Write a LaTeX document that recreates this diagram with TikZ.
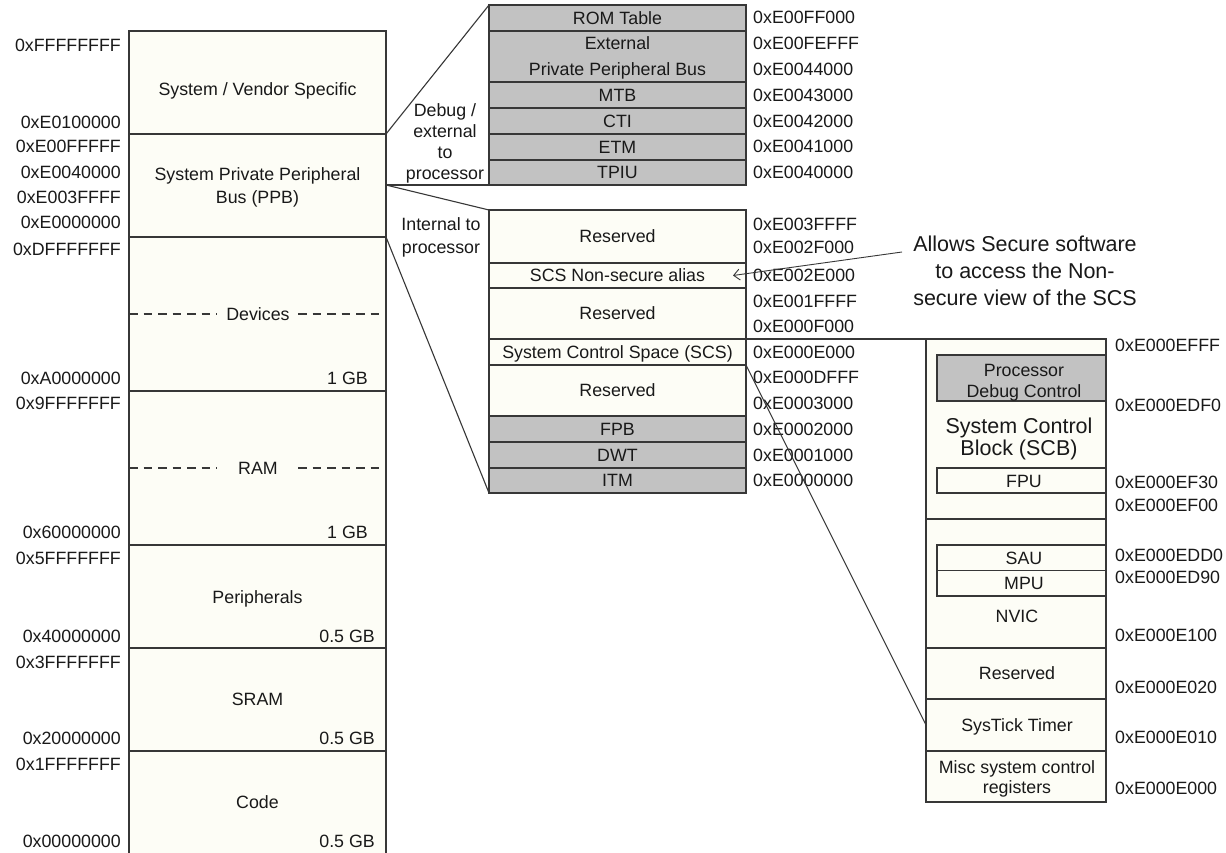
\documentclass[tikz,border=0pt]{standalone}
\usepackage{fontspec}
\setmainfont{Liberation Sans}
\usetikzlibrary{arrows.meta}
\definecolor{cream}{RGB}{253,253,246}
\definecolor{greyc}{RGB}{194,194,194}
\definecolor{linec}{RGB}{55,55,55}
\definecolor{txtc}{RGB}{25,25,25}
\newcommand\myfs{\fontsize{17.8}{21}\selectfont}
\newcommand\myfsbig{\fontsize{21.5}{26}\selectfont}
\tikzset{
  box/.style={draw=linec, line width=1.1pt, fill=cream, anchor=north west, inner sep=0pt, outer sep=0pt},
  gbox/.style={box, fill=greyc},
  txt/.style={font=\myfs, text=txtc, inner sep=0pt, anchor=base},
  bigtxt/.style={txt, font=\myfsbig},
  addrL/.style={txt, anchor=base east},
  addrR/.style={txt, anchor=base west},
  conn/.style={draw=linec, line width=1.1pt},
  dashln/.style={draw=linec, line width=1.1pt, dash pattern=on 8.5pt off 6pt},
}
\begin{document}
\begin{tikzpicture}[x=1pt,y=-1pt]
\useasboundingbox (0,0) rectangle (1226,852);
\fill[white] (0,0) rectangle (1226,852);

% ---------- left column ----------
\node[box, minimum width=257pt, minimum height=103pt] (sv)   at (129,31)  {};
\node[box, minimum width=257pt, minimum height=103pt] (ppb)  at (129,134) {};
\node[box, minimum width=257pt, minimum height=154pt] (dev)  at (129,237) {};
\node[box, minimum width=257pt, minimum height=154pt] (ram)  at (129,391) {};
\node[box, minimum width=257pt, minimum height=103pt] (per)  at (129,545) {};
\node[box, minimum width=257pt, minimum height=103pt] (sram) at (129,648) {};
\node[box, minimum width=257pt, minimum height=110pt] (code) at (129,751) {};

\node[txt] (t-sv)   at (257.5,95.4)  {System / Vendor Specific};
\node[txt] (t-ppb1) at (257.5,180.4) {System Private Peripheral};
\node[txt] (t-ppb2) at (257.5,203.4) {Bus (PPB)};
\node[txt] (t-dev)  at (258,320.4)   {Devices};
\node[txt] (t-ram)  at (258,474.4)   {RAM};
\node[txt] (t-per)  at (257.5,603.4) {Peripherals};
\node[txt] (t-sram) at (257.5,705.4) {SRAM};
\node[txt] (t-code) at (257.5,808.4) {Code};

\draw[dashln] (dev.west |- 0,314) -- (217,314);
\draw[dashln] (298,314) -- (dev.east |- 0,314);
\draw[dashln] (ram.west |- 0,468) -- (217,468);
\draw[dashln] (298,468) -- (ram.east |- 0,468);

\node[addrL] (s-dev)  at (368,384.4) {1 GB};
\node[addrL] (s-ram)  at (368,538.4) {1 GB};
\node[addrL] (s-per)  at (375,642.4) {0.5 GB};
\node[addrL] (s-sram) at (375,744.4) {0.5 GB};
\node[addrL] (s-code) at (375,847.4) {0.5 GB};

\node[addrL] (a1)  at (121,51.4)  {0xFFFFFFFF};
\node[addrL] (a2)  at (121,128.4) {0xE0100000};
\node[addrL] (a3)  at (121,152.4) {0xE00FFFFF};
\node[addrL] (a4)  at (121,178.4) {0xE0040000};
\node[addrL] (a5)  at (121,203.4) {0xE003FFFF};
\node[addrL] (a6)  at (121,228.4) {0xE0000000};
\node[addrL] (a7)  at (121,255.4) {0xDFFFFFFF};
\node[addrL] (a8)  at (121,384.4) {0xA0000000};
\node[addrL] (a9)  at (121,409.4) {0x9FFFFFFF};
\node[addrL] (a10) at (121,538.4) {0x60000000};
\node[addrL] (a11) at (121,564.4) {0x5FFFFFFF};
\node[addrL] (a12) at (121,642.4) {0x40000000};
\node[addrL] (a13) at (121,668.4) {0x3FFFFFFF};
\node[addrL] (a14) at (121,744.4) {0x20000000};
\node[addrL] (a15) at (121,770.4) {0x1FFFFFFF};
\node[addrL] (a16) at (121,847.4) {0x00000000};

% ---------- middle: debug / external ----------
\node[gbox, minimum width=257pt, minimum height=26pt] (rom)  at (489,5)   {};
\node[gbox, minimum width=257pt, minimum height=51pt] (ext)  at (489,31)  {};
\node[gbox, minimum width=257pt, minimum height=26pt] (mtb)  at (489,82)  {};
\node[gbox, minimum width=257pt, minimum height=26pt] (cti)  at (489,108) {};
\node[gbox, minimum width=257pt, minimum height=26pt] (etm)  at (489,134) {};
\node[gbox, minimum width=257pt, minimum height=25pt] (tpiu) at (489,160) {};

\node[txt] (t-rom)  at (617.5,24.4)  {ROM Table};
\node[txt] (t-ext1) at (617.5,49.4)  {External};
\node[txt] (t-ext2) at (617.5,75.4)  {Private Peripheral Bus};
\node[txt] (t-mtb)  at (617.5,101.4) {MTB};
\node[txt] (t-cti)  at (617.5,127.4) {CTI};
\node[txt] (t-etm)  at (617.5,153.4) {ETM};
\node[txt] (t-tpiu) at (617.5,178.9) {TPIU};

\node[addrR] (b1) at (753,23.4)  {0xE00FF000};
\node[addrR] (b2) at (753,49.4)  {0xE00FEFFF};
\node[addrR] (b3) at (753,75.4)  {0xE0044000};
\node[addrR] (b4) at (753,101.4) {0xE0043000};
\node[addrR] (b5) at (753,127.4) {0xE0042000};
\node[addrR] (b6) at (753,152.4) {0xE0041000};
\node[addrR] (b7) at (753,178.4) {0xE0040000};

\node[txt] (t-dbg1) at (445,116.4) {Debug /};
\node[txt] (t-dbg2) at (445,137.4) {external};
\node[txt] (t-dbg3) at (445,158.4) {to};
\node[txt] (t-dbg4) at (445,179.4) {processor};
\node[txt] (t-int1) at (441,230.4) {Internal to};
\node[txt] (t-int2) at (441,253.4) {processor};

% ---------- middle: internal ----------
\node[box,  minimum width=257pt, minimum height=53pt] (res1) at (489,210) {};
\node[box,  minimum width=257pt, minimum height=25pt] (nsa)  at (489,263) {};
\node[box,  minimum width=257pt, minimum height=51pt] (res2) at (489,288) {};
\node[box,  minimum width=257pt, minimum height=26pt] (scs)  at (489,339) {};
\node[box,  minimum width=257pt, minimum height=51pt] (res3) at (489,365) {};
\node[gbox, minimum width=257pt, minimum height=26pt] (fpb)  at (489,416) {};
\node[gbox, minimum width=257pt, minimum height=26pt] (dwt)  at (489,442) {};
\node[gbox, minimum width=257pt, minimum height=25pt] (itm)  at (489,468) {};

\node[txt] (t-res1) at (617.5,242.4) {Reserved};
\node[txt] (t-nsa)  at (617.5,281.9) {SCS Non-secure alias};
\node[txt] (t-res2) at (617.5,319.9) {Reserved};
\node[txt] (t-scs)  at (617.5,358.4) {System Control Space (SCS)};
\node[txt] (t-res3) at (617.5,396.9) {Reserved};
\node[txt] (t-fpb)  at (617.5,435.4) {FPB};
\node[txt] (t-dwt)  at (617.5,461.4) {DWT};
\node[txt] (t-itm)  at (617.5,486.9) {ITM};

\node[addrR] (c1)  at (753,230.4) {0xE003FFFF};
\node[addrR] (c2)  at (753,253.4) {0xE002F000};
\node[addrR] (c3)  at (753,281.4) {0xE002E000};
\node[addrR] (c4)  at (753,307.4) {0xE001FFFF};
\node[addrR] (c5)  at (753,332.4) {0xE000F000};
\node[addrR] (c6)  at (753,358.4) {0xE000E000};
\node[addrR] (c7)  at (753,383.4) {0xE000DFFF};
\node[addrR] (c8)  at (753,409.4) {0xE0003000};
\node[addrR] (c9)  at (753,435.4) {0xE0002000};
\node[addrR] (c10) at (753,461.4) {0xE0001000};
\node[addrR] (c11) at (753,486.4) {0xE0000000};

% ---------- right: SCS detail ----------
\node[box, minimum width=180pt, minimum height=180pt] (scb)     at (926,339) {};
\node[box, minimum width=180pt, minimum height=129pt] (nvic)    at (926,519) {};
\node[box, minimum width=180pt, minimum height=51pt]  (rres)    at (926,648) {};
\node[box, minimum width=180pt, minimum height=52pt]  (systick) at (926,699) {};
\node[box, minimum width=180pt, minimum height=51pt]  (misc)    at (926,751) {};
\node[gbox, minimum width=169pt, minimum height=46pt] (pdc) at (937,355) {};
\node[box,  minimum width=169pt, minimum height=25pt] (fpu) at (937,468) {};
\node[box,  minimum width=169pt, minimum height=25.5pt] (sau) at (937,545) {};
\node[box,  minimum width=169pt, minimum height=25.5pt] (mpu) at (937,570.5) {};

\node[txt] (t-pdc1) at (1024,376.4) {Processor};
\node[txt] (t-pdc2) at (1024,397.4) {Debug Control};
\node[bigtxt] (t-scb1) at (1019,433.7) {System Control};
\node[bigtxt] (t-scb2) at (1019,455.7) {Block (SCB)};
\node[txt] (t-fpu)  at (1024,487.4) {FPU};
\node[txt] (t-sau)  at (1024,564.2) {SAU};
\node[txt] (t-mpu)  at (1024,589.7) {MPU};
\node[txt] (t-nvic) at (1017,622.4) {NVIC};
\node[txt] (t-rres) at (1017,679.4) {Reserved};
\node[txt] (t-st)   at (1017,731.4) {SysTick Timer};
\node[txt] (t-misc1) at (1017,773.4) {Misc system control};
\node[txt] (t-misc2) at (1017,793.4) {registers};

\node[addrR] (d1)  at (1115,351.4) {0xE000EFFF};
\node[addrR] (d2)  at (1115,411.4) {0xE000EDF0};
\node[addrR] (d3)  at (1115,488.4) {0xE000EF30};
\node[addrR] (d4)  at (1115,511.4) {0xE000EF00};
\node[addrR] (d5)  at (1115,561.4) {0xE000EDD0};
\node[addrR] (d6)  at (1115,583.4) {0xE000ED90};
\node[addrR] (d7)  at (1115,641.4) {0xE000E100};
\node[addrR] (d8)  at (1115,693.4) {0xE000E020};
\node[addrR] (d9)  at (1115,743.4) {0xE000E010};
\node[addrR] (d10) at (1115,794.4) {0xE000E000};

% ---------- annotation ----------
\node[bigtxt] (n1) at (1025,251) {Allows Secure software};
\node[bigtxt] (n2) at (1025,278.5) {to access the Non-};
\node[bigtxt] (n3) at (1025,305) {secure view of the SCS};
\coordinate (arrtail) at (902,252);
\coordinate (arrtip) at ([xshift=-13pt]nsa.east);
\draw[conn, line width=0.9pt, -{Straight Barb[length=6pt,width=11pt]}] (arrtail) -- (arrtip);

% ---------- connectors ----------
\coordinate (ppbmid) at (ppb.east |- tpiu.south west);
\draw[conn] (sv.south east) -- (rom.north west);
\draw[conn] (ppbmid) -- (tpiu.south west);
\draw[conn] (ppbmid) -- (res1.north west);
\draw[conn] (ppb.south east) -- (itm.south west);
\draw[conn] (scs.north east) -- (scb.north west);
\draw[conn] (scs.south east) -- (systick.west);
\end{tikzpicture}
\end{document}
